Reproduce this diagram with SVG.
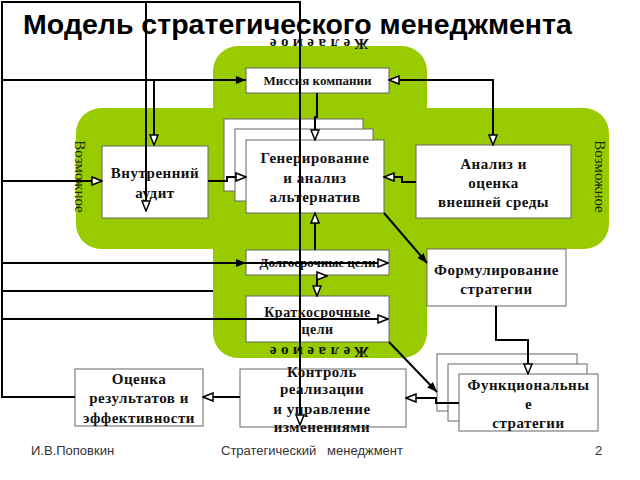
<svg xmlns="http://www.w3.org/2000/svg" width="640" height="480" viewBox="0 0 640 480">
<style>
.box{fill:#fff;stroke:#666;stroke-width:1}
.t{font-family:"Liberation Serif","Times New Roman",serif;font-weight:bold;fill:#111;text-anchor:middle}
.t15{font-size:15px;letter-spacing:0.5px}
.t13{font-size:13px}
.c{fill:none;stroke:#000;stroke-width:2}
.v{font-family:"Liberation Serif","Times New Roman",serif;font-size:15px;fill:#1c2e00;text-anchor:middle}
.f{font-family:"Liberation Sans",Arial,sans-serif;font-size:13px;fill:#333}
</style>
<defs>
<marker id="af" viewBox="0 0 10 8" refX="10" refY="4" markerWidth="10" markerHeight="8" orient="auto-start-reverse" markerUnits="userSpaceOnUse"><path d="M0,0 L10,4 L0,8 z" fill="#000"/></marker>
<marker id="ao" viewBox="-1 -1 12 10" refX="10" refY="4" markerWidth="12" markerHeight="10" orient="auto-start-reverse" markerUnits="userSpaceOnUse"><path d="M0,0 L10,4 L0,8 z" fill="#fff" stroke="#000" stroke-width="1.5"/></marker>
</defs>
<rect width="640" height="480" fill="#fff"/>
<path id="green" d="M238,46 H402 A25,25 0 0 1 427,71 V108 H584 A25,25 0 0 1 609,133 V224 A25,25 0 0 1 584,249 H427 V333 A25,25 0 0 1 402,358 H238 A25,25 0 0 1 213,333 V249 H101 A25,25 0 0 1 76,224 V133 A25,25 0 0 1 101,108 H213 V71 A25,25 0 0 1 238,46 Z" fill="#99cc00"/>
<text x="297.5" y="34" font-family="'Liberation Sans',Arial,sans-serif" font-size="28.5" font-weight="bold" text-anchor="middle" fill="#000">Модель стратегического менеджмента</text>
<text class="t" font-size="15" letter-spacing="4.5" x="321" y="49" fill="#222" transform="rotate(180 319 44)">Желаемое</text>
<text class="t" font-size="15" letter-spacing="4.5" x="321" y="357" fill="#1c2e00" transform="rotate(180 319 352)">Желаемое</text>
<text class="v" x="80" y="181.5" transform="rotate(90 80 176.5)">Возможное</text>
<text class="v" x="600" y="181.5" transform="rotate(90 600 176.5)">Возможное</text>
<g id="mission"><rect class="box" x="246" y="68" width="143" height="25"/><text class="t t13" x="317.5" y="85">Миссия компании</text></g>
<g id="audit"><rect class="box" x="102" y="146" width="106" height="72"/><text class="t t15" x="155" y="178">Внутренний</text><text class="t t15" x="155" y="198">аудит</text></g>
<g id="alternatives"><rect class="box" x="224" y="119" width="139" height="72"/><rect class="box" x="235" y="129" width="138" height="72"/><rect class="box" x="246" y="140" width="138" height="73"/><text class="t t15" x="315" y="163">Генерирование</text><text class="t t15" x="315" y="183">и анализ</text><text class="t t15" x="315" y="202">альтернатив</text></g>
<g id="environment"><rect class="box" x="416" y="145" width="155" height="73"/><text class="t t15" x="493.5" y="169">Анализ и</text><text class="t t15" x="493.5" y="188">оценка</text><text class="t t15" x="493.5" y="207">внешней среды</text></g>
<g id="longterm"><rect class="box" x="246" y="250" width="143" height="25"/><text class="t t13" x="317.5" y="267">Долгосрочные цели</text></g>
<g id="shortterm"><rect class="box" x="246" y="296" width="143" height="46"/><text class="t" font-size="14" letter-spacing="0.5" x="317.5" y="317">Краткосрочные</text><text class="t" font-size="14" letter-spacing="0.5" x="317.5" y="334">цели</text></g>
<g id="formulation"><rect class="box" x="427" y="249" width="139" height="57"/><text class="t t15" x="496.5" y="275">Формулирование</text><text class="t t15" x="496.5" y="294">стратегии</text></g>
<g id="functional"><rect class="box" x="437" y="354" width="140" height="57"/><rect class="box" x="448" y="364" width="139" height="57"/><rect class="box" x="459" y="374" width="139" height="57"/><text class="t t15" x="528.5" y="390">Функциональны</text><text class="t t15" x="528.5" y="409">е</text><text class="t t15" x="528.5" y="428">стратегии</text></g>
<g id="control"><rect class="box" x="240" y="369" width="166" height="58"/><text class="t t15" x="322" y="377">Контроль</text><text class="t t15" x="322" y="394">реализации</text><text class="t t15" x="322" y="414">и управление</text><text class="t t15" x="322" y="432">изменениями</text></g>
<g id="evaluation"><rect class="box" x="75" y="369" width="128" height="57"/><text class="t t15" x="139" y="384">Оценка</text><text class="t t15" x="139" y="403">результатов и</text><text class="t t15" x="139" y="423">эффективности</text></g>
<g id="connectors">
<polyline class="c" points="75,397 2,397 2,2 300,2 300,425" marker-end="url(#ao)"/>
<line class="c" x1="2" y1="80" x2="246" y2="80" marker-end="url(#af)"/>
<line class="c" x1="146" y1="2" x2="146" y2="211" marker-end="url(#ao)"/>
<line class="c" x1="154" y1="80" x2="154" y2="145" marker-end="url(#ao)"/>
<line class="c" x1="2" y1="181" x2="102" y2="181" marker-end="url(#ao)"/>
<line class="c" x1="2" y1="263" x2="246" y2="263" marker-end="url(#af)"/>
<line class="c" x1="246" y1="263" x2="388" y2="263" marker-end="url(#ao)"/>
<line class="c" x1="2" y1="291" x2="213" y2="291"/>
<line class="c" x1="2" y1="319" x2="388" y2="319" marker-end="url(#ao)"/>
<polyline class="c" points="317,93 317,117 315,117 315,140" marker-end="url(#ao)"/>
<polyline class="c" points="389,80 493,80 493,145" marker-start="url(#ao)" marker-end="url(#ao)"/>
<polyline class="c" points="208,181 227,181 227,177 246,177" marker-end="url(#ao)"/>
<polyline class="c" points="416,182 402,182 402,177 384,177" marker-end="url(#ao)"/>
<line class="c" x1="384" y1="213" x2="427" y2="263" marker-end="url(#af)"/>
<line class="c" x1="315" y1="250" x2="315" y2="213" marker-end="url(#ao)"/>
<line class="c" x1="317" y1="275" x2="317" y2="296" marker-end="url(#ao)"/>
<line class="c" x1="317" y1="276" x2="327" y2="276" marker-end="url(#ao)"/>
<polyline class="c" points="496,306 496,340 528,340 528,374" marker-end="url(#ao)"/>
<line class="c" x1="389" y1="342" x2="437" y2="392" marker-end="url(#af)"/>
<polyline class="c" points="459,403 436,403 436,398 406,398" marker-end="url(#ao)"/>
<line class="c" x1="240" y1="397" x2="203" y2="397" marker-end="url(#ao)"/>
</g>
<text class="f" x="31" y="455">И.В.Поповкин</text>
<text class="f" x="221" y="455" xml:space="preserve">Стратегический   менеджмент</text>
<text class="f" x="595" y="455">2</text>
</svg>
